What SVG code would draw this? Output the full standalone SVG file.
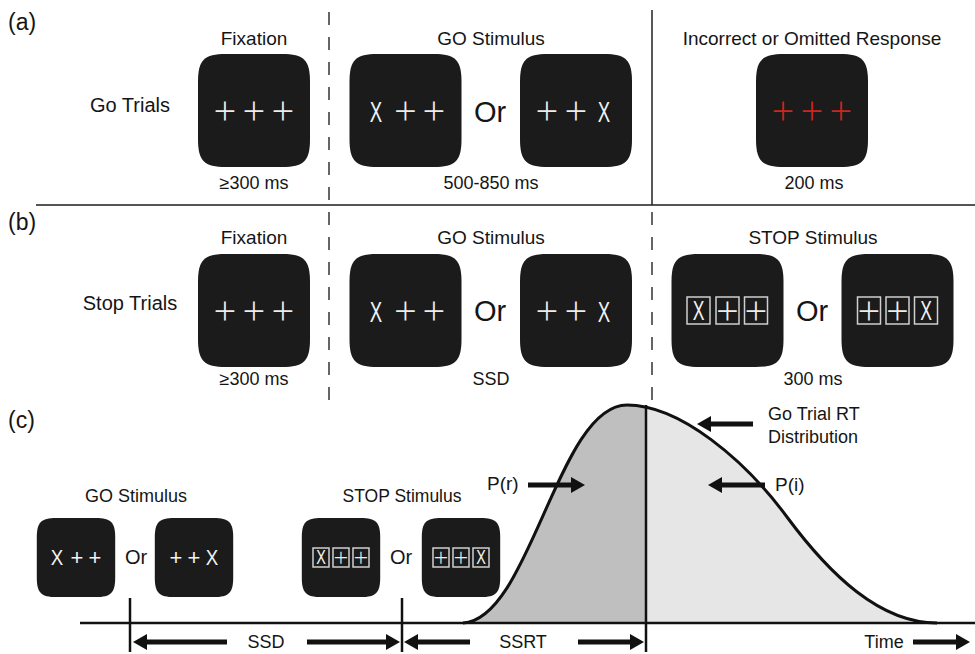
<svg xmlns="http://www.w3.org/2000/svg" width="975" height="654" viewBox="0 0 975 654">
<style>
.t{font-family:'Liberation Sans',Arial,sans-serif;fill:#151515}
.lab{font-size:19px;text-anchor:middle}
.ms{font-size:18px;text-anchor:middle}
.sec{font-size:23px}
.or{font-size:29px;text-anchor:middle}
.orc{font-size:20px;text-anchor:middle}
.pl{font-family:'Open Sans','Liberation Sans',sans-serif;font-weight:300;fill:#ececec;text-anchor:middle;font-size:40px}
.plr{fill:#d0241f}
.pls{font-size:40px}
.plc{font-size:26px}
.bx{font-family:'Liberation Sans',Arial,sans-serif;fill:#f2f2f2;text-anchor:middle;font-size:30px}
.bxc{font-family:'Liberation Sans',Arial,sans-serif;fill:#f2f2f2;text-anchor:middle;font-size:22px}
.scr{fill:#1b1b1b}
.sq{fill:none;stroke:#cfcfcf;stroke-width:1.5}
.dash{stroke:#333;stroke-width:1.5;stroke-dasharray:13 12;fill:none}
.ln{stroke:#111;stroke-width:2.5;fill:none}
.arr{stroke:#111;stroke-width:5;fill:none;marker-end:url(#ah)}
</style>
<defs>
<path id="scr" d="M -28,-56.5 H 28 C 50,-56.5 56,-50.5 56,-28.5 V 28.5 C 56,50.5 50,56.5 28,56.5 H -28 C -50,56.5 -56,50.5 -56,28.5 V -28.5 C -56,-50.5 -50,-56.5 -28,-56.5 Z"/>
<marker id="ah" markerUnits="userSpaceOnUse" markerWidth="16" markerHeight="18" refX="2" refY="8" orient="auto" viewBox="0 0 16 18">
<path d="M0,0 L14,8 L0,16 Z" fill="#111"/>
</marker>
<clipPath id="leftclip"><rect x="0" y="380" width="646" height="260"/></clipPath>
</defs>
<rect width="975" height="654" fill="#ffffff"/>

<g id="section-labels" class="t sec">
<text x="8" y="30">(a)</text>
<text x="8" y="230">(b)</text>
<text x="8" y="428">(c)</text>
</g>

<g id="dividers">
<line x1="36" y1="205" x2="975" y2="205" stroke="#555" stroke-width="2"/>
<line x1="329" y1="12" x2="329" y2="404" class="dash"/>
<line x1="652" y1="10" x2="652" y2="205" stroke="#222" stroke-width="1.5"/>
<line x1="652" y1="212" x2="652" y2="404" class="dash"/>
</g>

<g id="row-a-labels" class="t">
<text class="lab" x="130" y="112" style="font-size:20px">Go Trials</text>
<text class="lab" x="254" y="45">Fixation</text>
<text class="lab" x="491" y="45">GO Stimulus</text>
<text class="lab" x="812" y="45">Incorrect or Omitted Response</text>
<text class="ms" x="254" y="189">≥300 ms</text>
<text class="ms" x="491" y="189">500-850 ms</text>
<text class="ms" x="814" y="189">200 ms</text>
<text class="or" x="490" y="122">Or</text>
</g>

<g id="a-fixation">
<use href="#scr" class="scr" transform="translate(254,110.5)"/>
<text class="pl" x="225 254 283" y="125">+++</text>
</g>
<g id="a-go-left">
<use href="#scr" class="scr" transform="translate(405.5,110.5)"/>
<text class="bx" transform="translate(376,122) scale(0.62,1)">X</text>
<text class="pl" x="405.5 434" y="125">++</text>
</g>
<g id="a-go-right">
<use href="#scr" class="scr" transform="translate(576,110.5)"/>
<text class="pl" x="547 576" y="125">++</text>
<text class="bx" transform="translate(604,122) scale(0.62,1)">X</text>
</g>
<g id="a-incorrect">
<use href="#scr" class="scr" transform="translate(812,110.5)"/>
<text class="pl plr" x="783 812 841" y="125">+++</text>
</g>

<g id="row-b-labels" class="t">
<text class="lab" x="130" y="310" style="font-size:20px">Stop Trials</text>
<text class="lab" x="254" y="244">Fixation</text>
<text class="lab" x="491" y="244">GO Stimulus</text>
<text class="lab" x="813" y="244">STOP Stimulus</text>
<text class="ms" x="254" y="385">≥300 ms</text>
<text class="ms" x="491" y="385">SSD</text>
<text class="ms" x="813" y="385">300 ms</text>
<text class="or" x="490" y="321">Or</text>
<text class="or" x="812" y="321">Or</text>
</g>

<g id="b-fixation">
<use href="#scr" class="scr" transform="translate(254,310.5)"/>
<text class="pl" x="225 254 283" y="325">+++</text>
</g>
<g id="b-go-left">
<use href="#scr" class="scr" transform="translate(405.5,310.5)"/>
<text class="bx" transform="translate(376,322) scale(0.62,1)">X</text>
<text class="pl" x="405.5 434" y="325">++</text>
</g>
<g id="b-go-right">
<use href="#scr" class="scr" transform="translate(576,310.5)"/>
<text class="pl" x="547 576" y="325">++</text>
<text class="bx" transform="translate(604,322) scale(0.62,1)">X</text>
</g>
<g id="b-stop-left">
<use href="#scr" class="scr" transform="translate(727.5,310.5)"/>
<rect class="sq" x="687" y="297" width="23" height="27"/>
<rect class="sq" x="716" y="297" width="23" height="27"/>
<rect class="sq" x="744.5" y="297" width="23" height="27"/>
<text class="bx" style="font-size:27px" transform="translate(698.5,320) scale(0.65,1)">X</text>
<text class="pl pls" x="727.5 756" y="325">++</text>
</g>
<g id="b-stop-right">
<use href="#scr" class="scr" transform="translate(897.5,310.5)"/>
<rect class="sq" x="857.5" y="297" width="23" height="27"/>
<rect class="sq" x="886" y="297" width="23" height="27"/>
<rect class="sq" x="914.5" y="297" width="23" height="27"/>
<text class="pl pls" x="869 897.5" y="325">++</text>
<text class="bx" style="font-size:27px" transform="translate(926,320) scale(0.65,1)">X</text>
</g>

<g id="distribution">
<path d="M 463,623 C 530,620 558,405 627,405 C 680,405 745,460 787,517 C 830,575 880,623 937,623 Z" fill="#e6e6e6"/>
<path d="M 463,623 C 530,620 558,405 627,405 C 680,405 745,460 787,517 C 830,575 880,623 937,623 Z" fill="#bfbfbf" clip-path="url(#leftclip)"/>
<path d="M 463,623 C 530,620 558,405 627,405 C 680,405 745,460 787,517 C 830,575 880,623 937,623" fill="none" stroke="#111" stroke-width="3"/>
</g>

<g id="row-c-labels" class="t">
<text class="ms" x="136" y="502">GO Stimulus</text>
<text class="ms" x="402" y="502" style="font-size:17.5px">STOP Stimulus</text>
<text class="orc" x="136" y="564">Or</text>
<text class="orc" x="401" y="564">Or</text>
<text style="font-size:19px" x="487" y="490">P(r)</text>
<text style="font-size:18px" x="768" y="420">Go Trial RT</text>
<text style="font-size:18px" x="768" y="443">Distribution</text>
<text style="font-size:19px" x="775" y="491">P(i)</text>
<text class="ms" x="266" y="648">SSD</text>
<text class="ms" x="523" y="648">SSRT</text>
<text class="ms" x="884" y="648">Time</text>
</g>

<g id="c-go-left">
<use href="#scr" class="scr" transform="translate(76,557.5) scale(0.7)"/>
<text class="bxc" transform="translate(57,565) scale(0.85,1)">X</text>
<text class="bxc" x="77 95" y="565">++</text>
</g>
<g id="c-go-right">
<use href="#scr" class="scr" transform="translate(194,557.5) scale(0.7)"/>
<text class="bxc" x="176 194" y="565">++</text>
<text class="bxc" transform="translate(212,565) scale(0.85,1)">X</text>
</g>
<g id="c-stop-left">
<use href="#scr" class="scr" transform="translate(341,557.5) scale(0.7)"/>
<rect class="sq" x="313" y="548" width="16" height="19"/>
<rect class="sq" x="333" y="548" width="16" height="19"/>
<rect class="sq" x="353" y="548" width="16" height="19"/>
<text class="bxc" style="font-size:20px" transform="translate(321,564) scale(0.72,1)">X</text>
<text class="pl plc" x="341 361" y="567">++</text>
</g>
<g id="c-stop-right">
<use href="#scr" class="scr" transform="translate(461,557.5) scale(0.7)"/>
<rect class="sq" x="433" y="548" width="16" height="19"/>
<rect class="sq" x="453" y="548" width="16" height="19"/>
<rect class="sq" x="473" y="548" width="16" height="19"/>
<text class="pl plc" x="441 461" y="567">++</text>
<text class="bxc" style="font-size:20px" transform="translate(481,564) scale(0.72,1)">X</text>
</g>

<g id="connectors">
<line class="ln" x1="80" y1="623" x2="975" y2="623"/>
<line class="ln" x1="130" y1="598" x2="130" y2="652"/>
<line class="ln" x1="402" y1="598" x2="402" y2="652"/>
<line class="ln" x1="646" y1="405" x2="646" y2="652"/>
<line class="arr" x1="227" y1="642" x2="145" y2="642"/>
<line class="arr" x1="307" y1="642" x2="388" y2="642"/>
<line class="arr" x1="470" y1="642" x2="416" y2="642"/>
<line class="arr" x1="578" y1="642" x2="632" y2="642"/>
<line class="arr" x1="913" y1="642" x2="958" y2="642"/>
<line class="arr" x1="528" y1="485" x2="573" y2="485"/>
<line class="arr" x1="753" y1="424" x2="709" y2="424"/>
<line class="arr" x1="765" y1="485" x2="720" y2="485"/>
</g>
</svg>
